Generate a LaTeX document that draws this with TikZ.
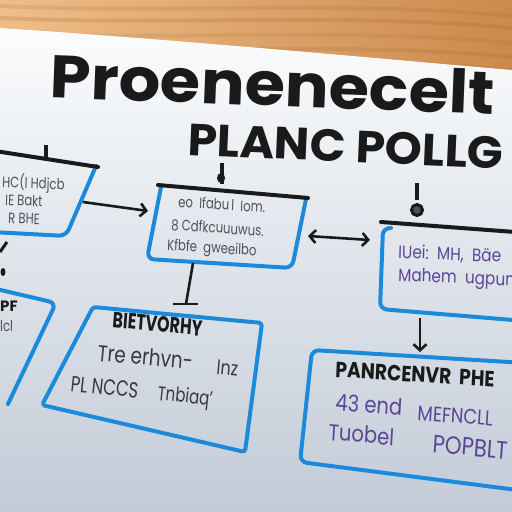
\documentclass[tikz,border=0pt]{standalone}
\usepackage{fontspec}
\setmainfont{Poppins}
\usetikzlibrary{arrows.meta}
\definecolor{woodA}{HTML}{EEBE8A}
\definecolor{woodB}{HTML}{CB8A4C}
\definecolor{grain}{HTML}{A8642C}
\definecolor{paperTop}{HTML}{FBFCFD}
\definecolor{paperBot}{HTML}{C2CBD7}
\definecolor{pen}{HTML}{1A1A1A}
\definecolor{blu}{HTML}{1C8ADB}
\definecolor{txtgray}{HTML}{4E5257}
\definecolor{purp}{HTML}{5D4596}
\begin{document}
\begin{tikzpicture}[x=1pt,y=-1pt,
  bluebox/.style={draw=blu,line width=4pt,rounded corners=7pt,line join=round,line cap=round},
  headbar/.style={draw=pen,line width=4pt,line cap=round},
  tickmark/.style={draw=pen,line width=3.5pt},
  conn/.style={draw=pen,line width=2.6pt},
  chev/.tip={Straight Barb[length=6pt,width=13pt,line width=2.6pt]},
  titletext/.style={text=pen,anchor=base,inner sep=0pt},
  gtext/.style={text=txtgray,font=\fontsize{15}{17}\selectfont,anchor=base west,inner sep=0pt,xscale=0.78},
  ptext/.style={text=purp,font=\fontsize{18}{20}\selectfont,anchor=base west,inner sep=0pt,xscale=0.85},
  btext/.style={text=pen,font=\bfseries\fontsize{22}{24}\selectfont,anchor=base west,inner sep=0pt,xscale=0.85},
]
\useasboundingbox (0,0) rectangle (512,512);
\clip (0,0) rectangle (512,512);
% wooden table
\shade[left color=woodA, right color=woodB] (0,0) rectangle (512,90);
\foreach \y/\o in {6/0.18,18/0.22,33/0.15,47/0.2,60/0.15}{
  \draw[grain, opacity=\o, line width=4pt] (0,\y) .. controls (180,\y+8) and (340,\y-6) .. (512,\y+10);
}
% sheet of paper
\shade[top color=paperTop,bottom color=paperBot]
  (0,28) .. controls (180,40) and (350,56) .. (512,70) -- (512,512) -- (0,512) -- cycle;

% title
\node[titletext,font=\bfseries\fontsize{60}{64}\selectfont, rotate=-2.2, xscale=1.09] (title1) at (272,106) {Proenenecelt};
\node[titletext,font=\bfseries\fontsize{45}{50}\selectfont, rotate=-2.5, xscale=1.05] (title2) at (345,162) {PLANC POLLG};

% top-left box
\draw[bluebox] (96,166) -- (66,236) -- (-8,232);
\draw[headbar] (-5,151) -- (98,167);
\draw[tickmark] (46,145) -- (46,157);
\node[gtext,rotate=-2] (tl1) at (2,187) {HC(l Hdjcb};
\node[gtext,rotate=-2] (tl2) at (5,205) {IE Bakt};
\node[gtext,rotate=-2] (tl3) at (8,223) {R BHE};

% center box
\draw[bluebox] (161,187) -- (147,259) -- (292,268) -- (306,199);
\draw[headbar] (158,185) -- (308,198);
\draw[tickmark] (222,163) -- (222,184);
\fill[pen] (221,178) ellipse (4 and 5);
\node[gtext,rotate=-3] (cb1) at (178,207) {eo\ \ Ifabu\,l\ \ Iom.};
\node[gtext,rotate=-3] (cb2) at (171,230) {8 Cdfkcuuuwus.};
\node[gtext,rotate=-3] (cb3) at (167,250) {Kfbfe\ \ gweeilbo};

% right box
\draw[bluebox] (391,228) -- (383,228) -- (380,309) -- (525,321);
\draw[headbar] (381,222) -- (515,232);
\draw[tickmark] (417,183) -- (417,200);
\draw[pen,line width=3pt,fill=txtgray] (417,210) circle (5.5);
\node[ptext,rotate=-2] (rb1) at (398,258) {IUei:\ \ MH,\ \ Bäe};
\node[ptext,rotate=-2] (rb2) at (398,281) {Mahem\ \ ugpun};

% left lower box (partly seen)
\draw[bluebox] (-8,288) -- (56,303) -- (8,404);
\node[text=pen,font=\bfseries\fontsize{15}{17}\selectfont,anchor=base west,inner sep=0pt] (lb1) at (0,311) {PF};
\node[gtext] (lb2) at (0,331) {lcl};
\draw[conn,line width=3pt] (0,252) -- (7,242);
\fill[pen] (3,272) ellipse (2.5 and 4);

% bottom middle box
\draw[bluebox,rounded corners=3pt] (93,307) -- (262,323) -- (245,452) -- (42,405) -- cycle;
\node[btext,rotate=-5,xscale=0.85] (bm1) at (112,327) {BIETVORHY};
\node[text=txtgray!70!black,font=\fontsize{23}{25}\selectfont,anchor=base west,inner sep=0pt,rotate=-5,xscale=0.8] (bm2) at (97,361) {Tre\ erhvn-};
\node[text=txtgray!70!black,font=\fontsize{20}{22}\selectfont,anchor=base west,inner sep=0pt,rotate=-5,xscale=0.8] (bm3) at (216,374) {lnz};
\node[text=txtgray!70!black,font=\fontsize{22}{24}\selectfont,anchor=base west,inner sep=0pt,rotate=-6,xscale=0.75] (bm4) at (70,391) {PL NCCS};
\node[text=txtgray!70!black,font=\fontsize{20}{22}\selectfont,anchor=base west,inner sep=0pt,rotate=-6,xscale=0.75] (bm5) at (157,400) {Tnbiaq'};

% bottom right box
\draw[bluebox] (525,363) -- (312,350) -- (300,462) -- (525,491);
\node[btext,rotate=-3] (br1) at (335,377) {PANRCENVR\ \ PHE};
\node[ptext,font=\fontsize{23}{25}\selectfont,rotate=-4] (br2) at (335,410) {43 end};
\node[ptext,font=\fontsize{21}{23}\selectfont,rotate=-4] (br3) at (417,420) {MEFNCLL};
\node[ptext,font=\fontsize{23}{25}\selectfont,rotate=-4] (br4) at (328,440) {Tuobel};
\node[ptext,font=\fontsize{25}{27}\selectfont,rotate=-5] (br5) at (432,452) {POPBLT};

% connectors
\coordinate (a1) at (83,202);
\coordinate (a2) at (148,211);
\draw[conn,-chev] (a1) -- (a2);
\coordinate (b1) at (308,236);
\coordinate (b2) at (370,240);
\draw[conn,chev-chev] (b1) -- (b2);
\coordinate (c1) at (420,318);
\coordinate (c2) at (420,352);
\draw[conn,-chev] (c1) -- (c2);
\coordinate (d1) at (193,263);
\coordinate (d2) at (186,304);
\draw[conn] (d1) -- (d2);
\coordinate (d3) at (173,304);
\coordinate (d4) at (198,304);
\draw[conn] (d3) -- (d4);
\end{tikzpicture}
\end{document}
